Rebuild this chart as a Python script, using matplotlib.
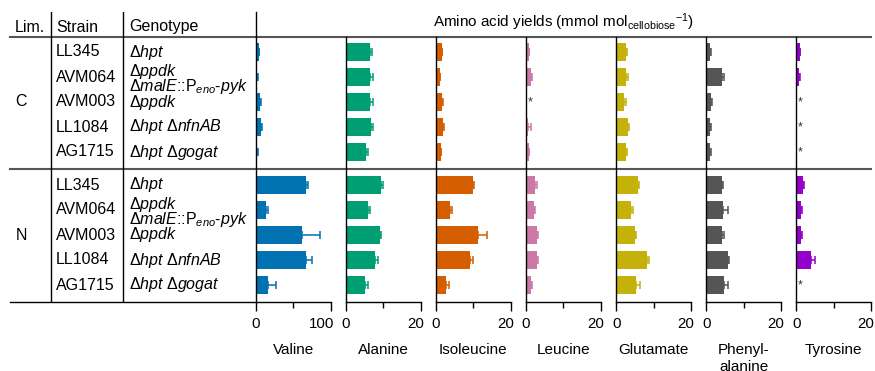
#!/usr/bin/python3

import numpy as np
import matplotlib

matplotlib.use('Agg')

import matplotlib.pyplot as plt
import matplotlib.transforms as mtransforms
from matplotlib.ticker import FixedLocator

plt.rcParams['font.family'] = 'Liberation Sans'
plt.rcParams['mathtext.fontset'] = 'custom'
plt.rcParams['mathtext.rm'] = 'Liberation Sans'
plt.rcParams['mathtext.it'] = 'Liberation Sans:italic'
plt.rcParams['axes.unicode_minus'] = False

W, H = 875, 371

limitations = ['C', 'N']
strains = ['LL345', 'AVM064', 'AVM003', 'LL1084', 'AG1715']
genotypes = [
    [r'$\mathit{\Delta hpt}$'],
    [r'$\mathit{\Delta ppdk}$', r'$\mathit{\Delta malE}$::P$_{\mathit{eno}}$-$\mathit{pyk}$'],
    [r'$\mathit{\Delta ppdk}$'],
    [r'$\mathit{\Delta hpt}$ $\mathit{\Delta nfnAB}$'],
    [r'$\mathit{\Delta hpt}$ $\mathit{\Delta gogat}$'],
]

amino_acids = ['Valine', 'Alanine', 'Isoleucine', 'Leucine', 'Glutamate',
               'Phenyl-\nalanine', 'Tyrosine']
colors = ['#0072B2', '#009E73', '#D55E00', '#CC79A7', '#C4B20A', '#555555', '#9400CC']
xmax = [100, 20, 20, 20, 20, 20, 20]

nan = np.nan
# yields, mmol/mol cellobiose; nan = not detected (*)
valine_c = [4, 2, 6, 7, 2]
valine_c_err = [0.5, 0.5, 1.5, 1.5, 0.5]
valine_n = [67.6, 13.3, 62.2, 66.7, 16.9]
valine_n_err = [2.0, 3.0, 23.5, 8.0, 9.8]
alanine_c = [6.5, 6.4, 6.4, 6.8, 5.5]
alanine_c_err = [0.4, 0.9, 0.9, 0.4, 0.4]
alanine_n = [9.5, 6.0, 9.0, 7.9, 5.2]
alanine_n_err = [0.4, 0.5, 0.4, 0.6, 0.6]
isoleucine_c = [1.5, 1.0, 1.5, 1.9, 1.3]
isoleucine_c_err = [0.2, 0.1, 0.3, 0.2, 0.1]
isoleucine_n = [10.0, 3.7, 11.3, 9.0, 2.6]
isoleucine_n_err = [0.3, 0.7, 2.4, 1.0, 0.9]
leucine_c = [0.8, 1.4, nan, 0.4, 0.8]
leucine_c_err = [0.1, 0.3, nan, 1.0, 0.1]
leucine_n = [2.5, 2.2, 2.9, 2.8, 1.2]
leucine_n_err = [0.3, 0.3, 0.3, 0.4, 0.3]
glutamate_c = [2.7, 2.7, 2.2, 3.2, 2.7]
glutamate_c_err = [0.3, 0.5, 0.3, 0.3, 0.3]
glutamate_n = [5.9, 4.0, 4.9, 8.3, 5.4]
glutamate_n_err = [0.3, 0.4, 0.4, 0.5, 0.9]
phenylalanine_c = [1.0, 4.2, 1.3, 1.0, 1.0]
phenylalanine_c_err = [0.3, 0.6, 0.3, 0.2, 0.2]
phenylalanine_n = [4.2, 4.5, 4.2, 5.8, 4.7]
phenylalanine_n_err = [0.3, 1.2, 0.6, 0.4, 1.0]
tyrosine_c = [0.9, 0.6, nan, nan, nan]
tyrosine_c_err = [0.1, 0.3, nan, nan, nan]
tyrosine_n = [1.8, 1.1, 1.3, 3.8, nan]
tyrosine_n_err = [0.3, 0.3, 0.3, 1.3, nan]

values = [valine_c + valine_n, alanine_c + alanine_n, isoleucine_c + isoleucine_n,
          leucine_c + leucine_n, glutamate_c + glutamate_n,
          phenylalanine_c + phenylalanine_n, tyrosine_c + tyrosine_n]
errors = [valine_c_err + valine_n_err, alanine_c_err + alanine_n_err,
          isoleucine_c_err + isoleucine_n_err, leucine_c_err + leucine_n_err,
          glutamate_c_err + glutamate_n_err, phenylalanine_c_err + phenylalanine_n_err,
          tyrosine_c_err + tyrosine_n_err]

# row layout (units of one bar slot)
gap = 0.32
ypos = np.concatenate([np.arange(5), 5 + gap + np.arange(5)])
y_top = -0.6
y_sep = 4 + 0.68
y_bot = 9 + gap + 0.68
y_head = y_top - 1.0

fig = plt.figure(figsize=(W / 100, H / 100), dpi=100)

px_top = 37
px_bot = 302
scale = (px_bot - px_top) / (y_bot - y_top)

# left table
head_px = px_top - (y_top - y_head) * scale
tab = fig.add_axes([0, (H - px_bot) / H, 256 / W, (px_bot - head_px) / H])
tab.set_xlim(0, 256)
tab.set_ylim(y_bot, y_head)
tab.axis('off')

fs = 11.5
tab.text(30, y_head + 0.6, 'Lim.', ha='center', va='center', fontsize=fs)
tab.text(56, y_head + 0.6, 'Strain', ha='left', va='center', fontsize=fs)
tab.text(129, y_head + 0.6, 'Genotype', ha='left', va='center', fontsize=fs)
for k, lim in enumerate(limitations):
    rows = ypos[5 * k:5 * k + 5]
    tab.text(21, rows[2], lim, ha='center', va='center', fontsize=fs)
    for i in range(5):
        tab.text(56, rows[i], strains[i], ha='left', va='center', fontsize=fs)
        g = genotypes[i]
        if len(g) == 1:
            tab.text(129, rows[i], g[0], ha='left', va='center', fontsize=fs)
        else:
            tab.text(129, rows[i] - 0.22, g[0], ha='left', va='center', fontsize=fs)
            tab.text(129, rows[i] + 0.36, g[1], ha='left', va='center', fontsize=fs)

line_kw = dict(color='#555555', linewidth=1.5, clip_on=False)
tab.plot([10, 871], [y_top, y_top], **line_kw)
tab.plot([10, 871], [y_sep, y_sep], **line_kw)
tab.plot([10, 256], [y_bot, y_bot], color='black', linewidth=1, clip_on=False)
for xv in [51, 123]:
    tab.plot([xv, xv], [y_head, y_bot], color='black', linewidth=1)
tab.plot([255.5, 255.5], [y_head, y_top], color='black', linewidth=1, clip_on=False)

fig.text(563 / W, 1 - 22 / H,
         r'Amino acid yields (mmol mol$_{\mathrm{cellobiose}}$$^{\mathrm{-1}}$)',
         ha='center', va='center', fontsize=11)

shift = mtransforms.ScaledTranslation(3.5 / 100, 0, fig.dpi_scale_trans)
for j, name in enumerate(amino_acids):
    left = 255.8 + 90.1 * j
    ax = fig.add_axes([left / W, (H - px_bot) / H, 74.7 / W, (px_bot - px_top) / H])
    vals = np.array(values[j], dtype=float)
    errs = np.array(errors[j], dtype=float)
    ok = ~np.isnan(vals)
    ax.barh(ypos[ok], vals[ok], height=0.72, color=colors[j])
    ax.errorbar(vals[ok], ypos[ok], xerr=[np.zeros(ok.sum()), errs[ok]], fmt='none',
                ecolor=colors[j], elinewidth=1.3, capsize=3, capthick=1.3, alpha=0.85)
    for yv in ypos[~ok]:
        ax.text(xmax[j] * 0.055, yv, '*', ha='center', va='center', fontsize=9,
                color='#333333')
    ax.set_xlim(0, xmax[j])
    ax.set_ylim(y_bot, y_top)
    ax.set_yticks([])
    ax.set_xticks([0, xmax[j]])
    ax.set_xticklabels(['0', str(xmax[j])])
    ax.xaxis.set_minor_locator(FixedLocator([xmax[j] / 2]))
    ax.tick_params(axis='x', which='major', direction='out', length=6.5, width=1,
                   pad=4, labelsize=10.8)
    ax.tick_params(axis='x', which='minor', direction='out', length=4, width=1)
    last = ax.get_xticklabels()[-1]
    last.set_horizontalalignment('right')
    last.set_transform(last.get_transform() + shift)
    ax.spines['top'].set_visible(False)
    ax.spines['right'].set_visible(False)
    ax.spines['left'].set_linewidth(1)
    ax.spines['bottom'].set_linewidth(1)
    ax.set_xlabel(name, fontsize=11, labelpad=9, linespacing=1.25)
    ax.patch.set_alpha(0)

fig.savefig('out.png', dpi=100)
